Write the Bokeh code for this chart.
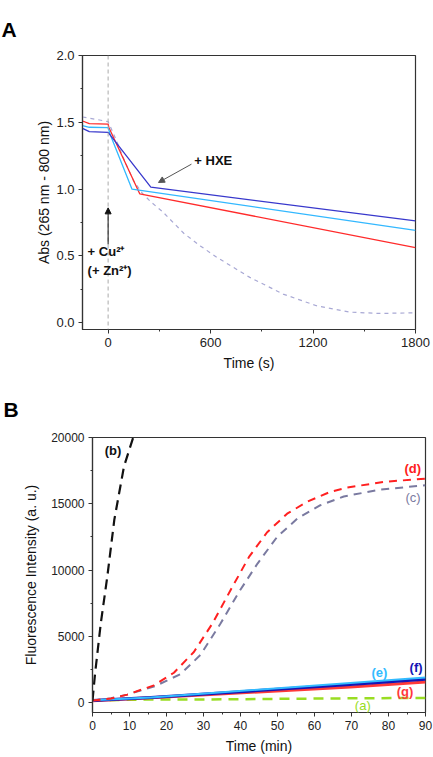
from bokeh.plotting import figure
from bokeh.models import Range1d, FixedTicker, Label, Arrow, NormalHead, Span
from bokeh.embed import file_html
from bokeh.resources import INLINE

FONT = "Liberation Sans"

# ---------------- Panel A data ----------------
red_t = [-150, -110, 0, 5, 185, 1800]
red_v = [1.51, 1.49, 1.487, 1.46, 0.965, 0.563]
sky_t = [-150, -110, 0, 15, 140, 1800]
sky_v = [1.475, 1.463, 1.46, 1.40, 1.0, 0.692]
blue_t = [-150, -110, 0, 250, 1800]
blue_v = [1.455, 1.43, 1.425, 1.015, 0.762]
lav_t = [-150, -60, 0, 50, 100, 150, 200, 250, 320, 443, 540, 637, 830, 1025, 1220, 1414, 1590, 1800]
lav_v = [1.54, 1.52, 1.505, 1.36, 1.2, 1.06, 0.97, 0.905, 0.83, 0.67, 0.575, 0.49, 0.34, 0.215, 0.128, 0.08, 0.07, 0.075]
a_xticks = [0, 600, 1200, 1800]
a_xminor = [300, 900, 1500]
a_yticks = [0, 0.5, 1.0, 1.5, 2.0]
a_yminor = [0.25, 0.75, 1.25, 1.75]
a_ylabels = ["0.0", "0.5", "1.0", "1.5", "2.0"]

# ---------------- Panel B data ----------------
b_t = [0, 0.7, 2.25, 4.0, 5.9, 8.5, 11.0, 12.0]
b_v = [150, 2200, 6000, 9500, 13800, 17800, 20000, 21000]
d_t = [0, 5, 9.4, 16.6, 22.0, 27.4, 32.4, 37.3, 42.3, 47.2, 52.6, 58.0, 64.3, 68.8, 78.7, 90]
d_v = [150, 300, 600, 1300, 2250, 3820, 5960, 8475, 10990, 12850, 14250, 15150, 15900, 16220, 16650, 16900]
c_t = [0, 5, 9.4, 17, 23.8, 29.2, 34.6, 39.6, 44.6, 49.9, 55.4, 61.6, 67.9, 77.4, 90]
c_v = [150, 320, 600, 1250, 2150, 3600, 5960, 8350, 10490, 12500, 13890, 14890, 15550, 16050, 16400]
e_t = [0, 15.75, 69.7, 90]
e_v = [170, 390, 1480, 1890]
f_t = [0, 15.75, 69.7, 90]
f_v = [150, 380, 1360, 1760]
g_t = [0, 15.75, 69.7, 90]
g_v = [130, 360, 1180, 1560]
a_t = [0, 10, 30, 50, 70, 90]
a_v = [150, 220, 230, 280, 320, 350]
b_xticks = list(range(0, 91, 10))
b_xminor = list(range(5, 90, 10))
b_yticks = [0, 5000, 10000, 15000, 20000]
b_yminor = [2500, 7500, 12500, 17500]


def style(p, xt, xm, yt, ym, tick_size):
    p.outline_line_color = "#333333"
    p.outline_line_width = 1.2
    p.xgrid.visible = False
    p.ygrid.visible = False
    p.xaxis.ticker = FixedTicker(ticks=xt, minor_ticks=xm)
    p.yaxis.ticker = FixedTicker(ticks=yt, minor_ticks=ym)
    for ax in (p.xaxis[0], p.yaxis[0]):
        ax.axis_line_color = "#333333"
        ax.axis_line_width = 1.2
        ax.major_tick_in = 0
        ax.major_tick_out = 4
        ax.minor_tick_in = 0
        ax.minor_tick_out = 2
        ax.major_tick_line_color = "#333333"
        ax.minor_tick_line_color = "#333333"
        ax.major_label_text_font = FONT
        ax.major_label_text_font_size = tick_size
        ax.major_label_text_color = "#222222"
        ax.axis_label_text_font = FONT
        ax.axis_label_text_font_size = "14px"
        ax.axis_label_text_font_style = "normal"
        ax.axis_label_text_color = "#111111"
        ax.major_label_standoff = 4


def panel_title(p, letter, offset, standoff):
    p.title.text = letter
    p.title.align = "left"
    p.title.offset = offset
    p.title.standoff = standoff
    p.title.text_font = FONT
    p.title.text_font_size = "21px"
    p.title.text_font_style = "bold"
    p.title.text_color = "#000000"


# ---------------- Figure A ----------------
pA = figure(width=433, height=378, x_range=Range1d(-150, 1800), y_range=Range1d(-0.05, 2.0),
            output_backend="svg", toolbar_location=None,
            min_border_left=82, min_border_right=18, min_border_top=54, min_border_bottom=49)
style(pA, a_xticks, a_xminor, a_yticks, a_yminor, "13px")
panel_title(pA, "A", -81, 30)
pA.yaxis.major_label_overrides = {v: s for v, s in zip(a_yticks, a_ylabels)}
pA.xaxis.axis_label = "Time (s)"
pA.yaxis.axis_label = "Abs (265 nm - 800 nm)"
pA.xaxis.axis_label_standoff = 5
pA.yaxis.axis_label_standoff = 1

pA.add_layout(Span(location=0, dimension="height", line_color="#AAAAAA", line_dash="4 3", line_width=1))
pA.line(lav_t, lav_v, line_color="#A8A8D4", line_width=1.2, line_dash="4 4")
pA.line(red_t, red_v, line_color="#FF2B2B", line_width=1.3)
pA.line(sky_t, sky_v, line_color="#33B8FF", line_width=1.3)
pA.line(blue_t, blue_v, line_color="#3838CC", line_width=1.3)

pA.add_layout(Arrow(end=NormalHead(size=6, fill_color="#111111", line_color="#111111"),
                    x_start=0, y_start=0.587, x_end=0, y_end=0.86,
                    line_color="#111111", line_width=1))
pA.add_layout(Arrow(end=NormalHead(size=6, fill_color="#555555", line_color="#555555"),
                    x_start=488, y_start=1.187, x_end=295, y_end=1.05,
                    line_color="#555555", line_width=1))
for txt, x, y in [("+ Cu²⁺", -120, 0.53), ("(+ Zn²⁺)", -120, 0.395), ("+ HXE", 505, 1.216)]:
    pA.add_layout(Label(x=x, y=y, text=txt, text_font=FONT, text_font_size="13px",
                        text_font_style="bold", text_color="#111111", text_baseline="middle"))

# ---------------- Figure B ----------------
pB = figure(width=433, height=379, x_range=Range1d(0, 90), y_range=Range1d(-750, 20000),
            output_backend="svg", toolbar_location=None,
            min_border_left=92, min_border_right=8, min_border_top=59, min_border_bottom=45)
style(pB, b_xticks, b_xminor, b_yticks, b_yminor, "12px")
panel_title(pB, "B", -89, 34)
pB.xaxis.axis_label = "Time (min)"
pB.yaxis.axis_label = "Fluorescence Intensity (a. u.)"
pB.xaxis.axis_label_standoff = 5
pB.yaxis.axis_label_standoff = 9

pB.line(a_t, a_v, line_color="#99DD22", line_width=2.5, line_dash="10 7")
pB.line(g_t, g_v, line_color="#FF3A3A", line_width=3)
pB.line(f_t, f_v, line_color="#1515B5", line_width=3)
pB.line(e_t, e_v, line_color="#33BBFF", line_width=2)
pB.line(c_t, c_v, line_color="#7A7AA0", line_width=2, line_dash="8 6")
pB.line(d_t, d_v, line_color="#FF2020", line_width=2, line_dash="8 6")
pB.line(b_t, b_v, line_color="#111111", line_width=2.2, line_dash="10 6")

for txt, x, y, col in [("(b)", 3.3, 19040, "#111111"), ("(d)", 84.3, 17680, "#FF2020"),
                       ("(c)", 84.6, 15460, "#7A7AA0"), ("(e)", 75.4, 2290, "#33BBFF"),
                       ("(f)", 85.7, 2630, "#1515B5"), ("(g)", 82.2, 850, "#FF3A3A"),
                       ("(a)", 70.9, -200, "#99DD22")]:
    pB.add_layout(Label(x=x, y=y, text=txt, text_font=FONT, text_font_size="13px",
                        text_font_style="normal" if txt in ("(c)", "(a)") else "bold",
                        text_color=col, text_baseline="middle"))

open("out.html", "w").write(file_html([pA, pB], INLINE))
